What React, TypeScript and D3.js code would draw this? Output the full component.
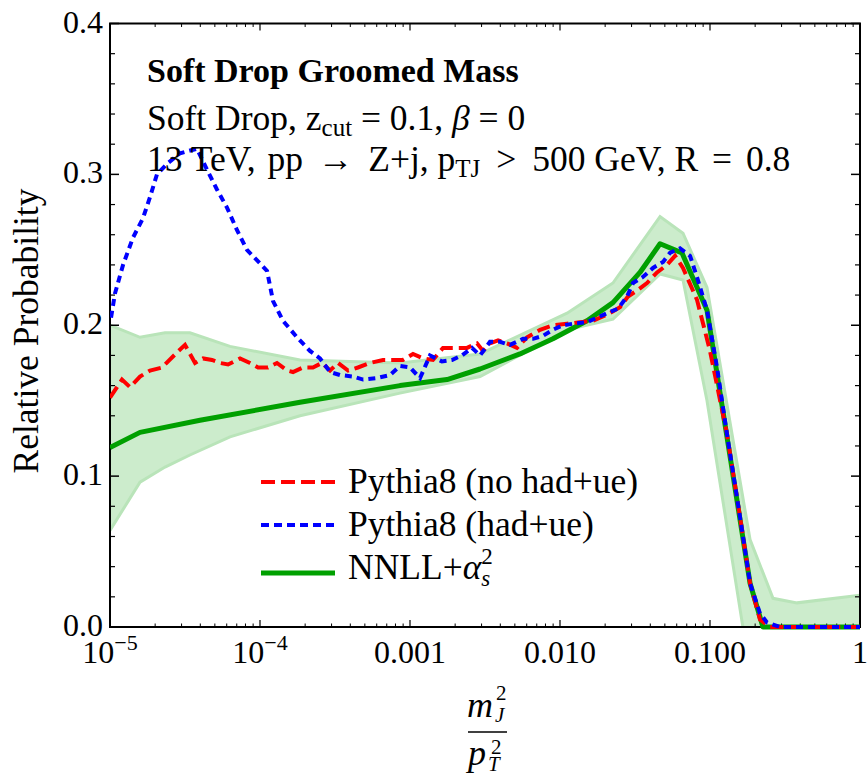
import React from "react";
import * as d3 from "d3";

// x values are log10(m_J^2/p_T^2)
const redX = [-5,-4.92,-4.867,-4.8,-4.733,-4.653,-4.553,-4.5,-4.433,-4.38,-4.32,-4.267,-4.213,-4.133,-4.067,-4.013,-3.947,-3.887,-3.82,-3.78,-3.713,-3.647,-3.587,-3.533,-3.48,-3.413,-3.347,-3.267,-3.18,-3.113,-3.047,-2.98,-2.913,-2.847,-2.78,-2.687,-2.62,-2.553,-2.513,-2.467,-2.413,-2.353,-2.287,-2.22,-2.133,-2.047,-1.953,-1.867,-1.78,-1.687,-1.6,-1.547,-1.487,-1.42,-1.353,-1.287,-1.233,-1.18,-1.087,-1,-0.887,-0.8,-0.733,-0.667,-0.6,-0.467,-0.333,-0.2,-0.067,0];
const redY = [0.152,0.164,0.159,0.166,0.170,0.172,0.182,0.187,0.175,0.178,0.177,0.175,0.174,0.178,0.175,0.172,0.172,0.175,0.170,0.169,0.172,0.172,0.175,0.170,0.175,0.170,0.172,0.175,0.177,0.177,0.177,0.181,0.178,0.177,0.185,0.185,0.185,0.188,0.183,0.188,0.190,0.188,0.185,0.192,0.197,0.200,0.201,0.202,0.203,0.207,0.212,0.219,0.223,0.228,0.235,0.240,0.246,0.238,0.217,0.183,0.128,0.073,0.029,0.005,0,0,0,0,0,0];

const blueX = [-4.993,-4.967,-4.913,-4.847,-4.78,-4.733,-4.687,-4.62,-4.533,-4.42,-4.353,-4.287,-4.22,-4.153,-4.087,-4,-3.953,-3.913,-3.847,-3.753,-3.667,-3.6,-3.533,-3.467,-3.38,-3.313,-3.22,-3.133,-3.067,-3,-2.933,-2.867,-2.787,-2.72,-2.653,-2.587,-2.533,-2.467,-2.4,-2.333,-2.247,-2.18,-2.113,-2.047,-1.98,-1.913,-1.82,-1.753,-1.687,-1.613,-1.553,-1.513,-1.447,-1.38,-1.313,-1.267,-1.2,-1.133,-1.087,-1.02,-0.953,-0.887,-0.8,-0.733,-0.667,-0.62,-0.533,-0.4,-0.267,-0.133,0];
const blueY = [0.205,0.221,0.240,0.258,0.271,0.285,0.300,0.307,0.314,0.317,0.303,0.290,0.278,0.263,0.250,0.241,0.236,0.216,0.203,0.192,0.183,0.178,0.169,0.167,0.166,0.164,0.165,0.167,0.173,0.172,0.165,0.180,0.176,0.177,0.180,0.185,0.180,0.189,0.189,0.187,0.191,0.191,0.193,0.197,0.200,0.201,0.202,0.205,0.208,0.211,0.219,0.228,0.232,0.238,0.242,0.248,0.251,0.246,0.232,0.210,0.172,0.128,0.073,0.029,0.009,0.003,0,0,0,0,0];

const greenX = [-5,-4.8,-4.4,-3.733,-3.067,-2.753,-2.533,-2.267,-2.047,-1.82,-1.647,-1.467,-1.333,-1.187,-1.02,-0.733,-0.647,0];
const greenY = [0.119,0.129,0.137,0.149,0.160,0.164,0.171,0.181,0.191,0.203,0.215,0.235,0.254,0.248,0.210,0.029,0,0];

const bandX = [-5,-4.8,-4.633,-4.467,-4.2,-3.733,-3.067,-2.533,-1.953,-1.647,-1.333,-1.18,-1.02,-0.733,-0.58,-0.42,0];
const bandHi = [0.200,0.192,0.195,0.195,0.186,0.177,0.175,0.181,0.208,0.228,0.272,0.261,0.225,0.058,0.019,0.016,0.021];
const bandLo = [0.064,0.096,0.106,0.114,0.126,0.140,0.155,0.166,0.197,0.204,0.234,0.230,0.150,-0.03,0,0,0];

const yTicks = [0, 0.1, 0.2, 0.3, 0.4];
const yTickLabels = ["0.0", "0.1", "0.2", "0.3", "0.4"];
const xDecades = [-5, -4, -3, -2, -1, 0];
const xTickLabels = ["10^-5", "10^-4", "0.001", "0.010", "0.100", "1"];

const FONT = "'Liberation Serif', 'Times New Roman', Times, serif";
const RED = "#ff0000";
const BLUE = "#0000ff";
const GREEN = "#00a000";
const FS = 35.5;

export default function App() {
  const L = 110, R = 860, T = 23.5, B = 627;
  const xS = d3.scaleLog().domain([1e-5, 1]).range([L, R]);
  const yS = d3.scaleLinear().domain([0, 0.4]).range([B, T]);
  const toPts = (xs: number[], ys: number[]) => xs.map((x, i) => [Math.pow(10, x), ys[i]] as [number, number]);
  const line = d3.line<[number, number]>().x(d => xS(d[0])).y(d => yS(d[1]));
  const bandData = bandX.map((x, i) => ({ x: Math.pow(10, x), lo: bandLo[i], hi: bandHi[i] }));
  const area = d3.area<any>().x(d => xS(d.x)).y0(d => yS(d.lo)).y1(d => yS(d.hi));
  const hiLine = d3.line<any>().x(d => xS(d.x)).y(d => yS(d.hi));
  const loLine = d3.line<any>().x(d => xS(d.x)).y(d => yS(d.lo));

  const yMinor: number[] = [];
  for (let i = 1; i < 20; i++) if (i % 5 !== 0) yMinor.push(i * 0.02);
  const xMinor: number[] = [];
  for (let d = -5; d < 0; d++) for (let k = 2; k <= 9; k++) xMinor.push(k * Math.pow(10, d));

  return (
    <svg width={867} height={776} style={{ position: "absolute", left: 0, top: 0, background: "#fff" }} fontFamily={FONT}>
      <defs>
        <clipPath id="bandClip"><rect x={L} y={T} width={R - L} height={B - T} /></clipPath>
        <clipPath id="lineClip"><rect x={L} y={T} width={R - L} height={B - T + 4} /></clipPath>
      </defs>
      <rect x={0} y={0} width={867} height={776} fill="#fff" />
      {/* band */}
      <g clipPath="url(#bandClip)">
        <path d={area(bandData) || ""} fill="rgb(204,236,204)" />
        <path d={hiLine(bandData) || ""} fill="none" stroke="rgb(185,228,185)" strokeWidth={3} />
        <path d={loLine(bandData) || ""} fill="none" stroke="rgb(185,228,185)" strokeWidth={3} />
      </g>
      {/* frame */}
      <rect x={L} y={T} width={R - L} height={B - T} fill="none" stroke="#000" strokeWidth={2} />
      {/* y ticks */}
      {yTicks.map(v => (
        <g key={"ym" + v}>
          <line x1={L} x2={L + 9} y1={yS(v)} y2={yS(v)} stroke="#000" strokeWidth={1.5} />
          <line x1={R} x2={R - 9} y1={yS(v)} y2={yS(v)} stroke="#000" strokeWidth={1.5} />
        </g>
      ))}
      {yMinor.map(v => (
        <g key={"yn" + v}>
          <line x1={L} x2={L + 5} y1={yS(v)} y2={yS(v)} stroke="#000" strokeWidth={1.2} />
          <line x1={R} x2={R - 5} y1={yS(v)} y2={yS(v)} stroke="#000" strokeWidth={1.2} />
        </g>
      ))}
      {/* x ticks */}
      {xDecades.map(d => (
        <g key={"xm" + d}>
          <line x1={xS(Math.pow(10, d))} x2={xS(Math.pow(10, d))} y1={B} y2={B - 7} stroke="#000" strokeWidth={1.2} />
          <line x1={xS(Math.pow(10, d))} x2={xS(Math.pow(10, d))} y1={T} y2={T + 7} stroke="#000" strokeWidth={1.2} />
        </g>
      ))}
      {xMinor.map(v => (
        <g key={"xn" + v}>
          <line x1={xS(v)} x2={xS(v)} y1={B} y2={B - 3.5} stroke="#000" strokeWidth={1} />
          <line x1={xS(v)} x2={xS(v)} y1={T} y2={T + 3.5} stroke="#000" strokeWidth={1} />
        </g>
      ))}
      {/* y tick labels */}
      {yTicks.map((v, i) => (
        <text key={"yl" + v} x={103} y={yS(v) + 9} fontSize={32} textAnchor="end">{yTickLabels[i]}</text>
      ))}
      {/* x tick labels */}
      {xDecades.map((d, i) => {
        const lab = xTickLabels[i];
        const x = xS(Math.pow(10, d));
        if (lab.startsWith("10^")) {
          const exp = lab.slice(3).replace("-", "\u2212");
          return (
            <text key={"xl" + d} x={x} y={663} fontSize={32} textAnchor="middle">
              10<tspan dy={-13} fontSize={22}>{exp}</tspan>
            </text>
          );
        }
        return <text key={"xl" + d} x={x} y={663} fontSize={32} textAnchor="middle">{lab}</text>;
      })}
      {/* curves */}
      <g clipPath="url(#lineClip)">
        <path d={line(toPts(greenX, greenY)) || ""} fill="none" stroke={GREEN} strokeWidth={5} strokeLinejoin="round" />
        <path d={line(toPts(redX, redY)) || ""} fill="none" stroke={RED} strokeWidth={4} strokeDasharray="13,6" />
        <path d={line(toPts(blueX, blueY)) || ""} fill="none" stroke={BLUE} strokeWidth={4} strokeDasharray="7,5" />
      </g>
      {/* title texts */}
      <text x={147} y={82} fontSize={34} fontWeight="bold">Soft Drop Groomed Mass</text>
      <text x={147} y={130} fontSize={FS}>
        <tspan>{"Soft Drop, z"}</tspan>
        <tspan fontSize={25} dy={6}>cut</tspan>
        <tspan dy={-6}>{" = 0.1, "}</tspan>
        <tspan fontStyle="italic">{"β"}</tspan>
        <tspan>{" = 0"}</tspan>
      </text>
      <text x={147} y={171} fontSize={FS}>
        <tspan>{"13 TeV,"}</tspan>
        <tspan dx={3}>{" pp"}</tspan>
        <tspan dx={6}>{" \u2192 "}</tspan>
        <tspan dx={6}>{"Z+j, p"}</tspan>
        <tspan fontSize={25} dy={6}>TJ</tspan>
        <tspan dy={-6} dx={7}>{" > "}</tspan>
        <tspan dx={7}>{"500 GeV, R"}</tspan>
        <tspan dx={5}>{" = "}</tspan>
        <tspan dx={5}>0.8</tspan>
      </text>
      {/* legend */}
      <line x1={261} x2={335} y1={482} y2={482} stroke={RED} strokeWidth={4} strokeDasharray="14,6" />
      <text x={348} y={493} fontSize={FS}>Pythia8 (no had+ue)</text>
      <line x1={261} x2={335} y1={525} y2={525} stroke={BLUE} strokeWidth={4} strokeDasharray="8,5" />
      <text x={348} y={536} fontSize={FS}>Pythia8 (had+ue)</text>
      <line x1={261} x2={335} y1={573} y2={573} stroke={GREEN} strokeWidth={5} />
      <text x={348} y={579} fontSize={FS}>
        <tspan>{"NNLL+"}</tspan>
        <tspan fontStyle="italic">{"α"}</tspan>
        <tspan fontStyle="italic" fontSize={23} dy={7}>s</tspan>
        <tspan fontSize={23} dx={-9} dy={-22}>2</tspan>
      </text>
      {/* y axis label */}
      <text transform="translate(38,331) rotate(-90)" fontSize={FS} textAnchor="middle">Relative Probability</text>
      {/* x axis label */}
      <text x={467} y={717} fontSize={36} fontStyle="italic">m</text>
      <text x={496} y={700} fontSize={21}>2</text>
      <text x={495} y={722} fontSize={21} fontStyle="italic">J</text>
      <line x1={468} x2={507} y1={732} y2={732} stroke="#000" strokeWidth={1.5} />
      <text x={468} y={765} fontSize={36} fontStyle="italic">p</text>
      <text x={491} y={754} fontSize={21}>2</text>
      <text x={488} y={771} fontSize={21} fontStyle="italic">T</text>
    </svg>
  );
}
